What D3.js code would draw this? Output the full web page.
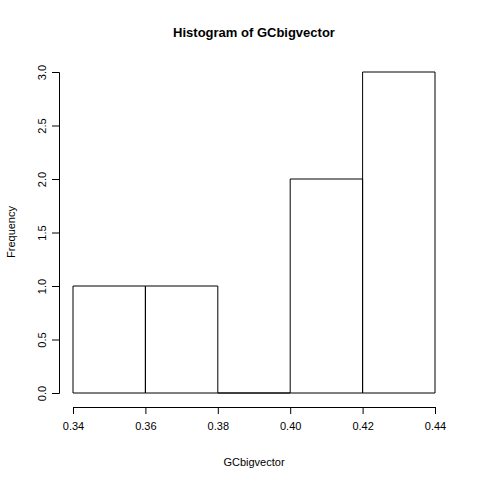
<!DOCTYPE html>
<html>
<head>
<meta charset="utf-8">
<script src="https://cdn.jsdelivr.net/npm/d3@7"></script>
<style>
  body { margin: 0; background: #fff; }
  text { font-family: "Liberation Sans", Arial, sans-serif; fill: #000; }
</style>
</head>
<body>
<div id="wrapper"></div>
<script>
// histogram data
const binStarts = [0.34, 0.36, 0.38, 0.40, 0.42];
const binEnds = [0.36, 0.38, 0.40, 0.42, 0.44];
const counts = [1, 1, 0, 2, 3];
const xTicks = [0.34, 0.36, 0.38, 0.40, 0.42, 0.44];
const yTicks = [0, 0.5, 1, 1.5, 2, 2.5, 3];

function drawHistogram() {
  const width = 480, height = 480;

  const svg = d3.select("#wrapper").append("svg")
    .attr("width", width)
    .attr("height", height);

  const xScale = d3.scaleLinear().domain([0.34, 0.44]).range([73, 435]);
  const yScale = d3.scaleLinear().domain([0, 3]).range([393, 72]);

  // bars (drawn as closed paths so an empty bin still shows its base line)
  svg.selectAll("path.bar")
    .data(counts)
    .enter()
    .append("path")
    .attr("class", "bar")
    .attr("d", (d, i) => {
      const x0 = xScale(binStarts[i]), x1 = xScale(binEnds[i]);
      const y0 = yScale(0), y1 = yScale(d);
      return `M${x0},${y0}L${x0},${y1}L${x1},${y1}L${x1},${y0}Z`;
    })
    .attr("fill", "none")
    .attr("stroke", "#000")
    .attr("stroke-width", 1);

  // x axis
  const xAxis = svg.append("g")
    .attr("transform", "translate(0,407)")
    .call(d3.axisBottom(xScale).tickValues(xTicks).tickSize(7).tickPadding(8)
      .tickFormat(d3.format(".2f")));
  xAxis.selectAll("text").style("font-size", "11px");

  // y axis
  const yAxis = svg.append("g")
    .attr("transform", "translate(59,0)")
    .call(d3.axisLeft(yScale).tickValues(yTicks).tickSize(7)
      .tickFormat(d3.format(".1f")));
  yAxis.selectAll("text")
    .style("font-size", "11px")
    .attr("text-anchor", "middle")
    .attr("x", 0)
    .attr("y", -13)
    .attr("dy", 0)
    .attr("transform", "rotate(-90)");

  [xAxis, yAxis].forEach(g => {
    g.select(".domain").attr("stroke", "#000");
    g.selectAll(".tick line").attr("stroke", "#000");
  });

  // titles
  svg.append("text")
    .attr("x", 254).attr("y", 37)
    .attr("text-anchor", "middle")
    .style("font-size", "13px").style("font-weight", "bold")
    .text("Histogram of GCbigvector");

  svg.append("text")
    .attr("x", 254).attr("y", 466)
    .attr("text-anchor", "middle")
    .style("font-size", "11px")
    .text("GCbigvector");

  svg.append("text")
    .attr("transform", "translate(15,232) rotate(-90)")
    .attr("text-anchor", "middle")
    .style("font-size", "11px")
    .text("Frequency");
}
drawHistogram();
</script>
</body>
</html>
